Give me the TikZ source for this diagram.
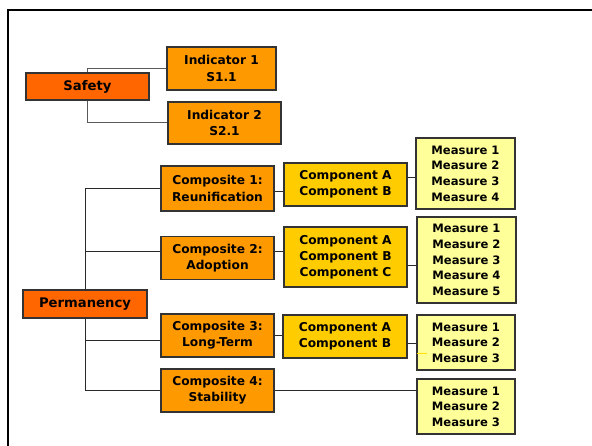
\documentclass[tikz,border=0pt]{standalone}
\usepackage{fontspec}
\setmainfont{DejaVu Sans}
\definecolor{topc}{HTML}{FF6600}
\definecolor{midc}{HTML}{FF9900}
\definecolor{compc}{HTML}{FFCC00}
\definecolor{measc}{HTML}{FFFF99}
\definecolor{edgec}{HTML}{333333}
\definecolor{linec}{HTML}{2A2A2A}
\definecolor{linegray}{HTML}{5A5A5A}
\definecolor{yelline}{HTML}{FFE000}
\begin{document}
\begin{tikzpicture}[x=1pt,y=-1pt,
  box/.style={draw=edgec,line width=1.3pt,inner sep=0pt,align=center,
    font=\fontsize{12.2}{16.2}\selectfont\bfseries},
  topbox/.style={box,fill=topc,font=\fontsize{13.2}{16}\selectfont\bfseries},
  midbox/.style={box,fill=midc},
  compbox/.style={box,fill=compc},
  measbox/.style={box,fill=measc,font=\fontsize{11.6}{15.6}\selectfont\bfseries},
  conn/.style={draw=linec,line width=1pt},
  conng/.style={draw=linegray,line width=1pt}]
\useasboundingbox (0,0) rectangle (592,446);
\draw[line width=2.6pt] (8,446) -- (8,10) -- (592,10);

\node[topbox,minimum width=123pt,minimum height=27pt] (safety) at (87.5,86.5) {Safety};
\node[midbox,minimum width=109pt,minimum height=43pt] (ind1) at (221.5,68.5) {Indicator 1\\S1.1};
\node[midbox,minimum width=113pt,minimum height=42pt] (ind2) at (224.5,123) {Indicator 2\\S2.1};

\node[topbox,minimum width=124pt,minimum height=28pt] (perm) at (85,304) {Permanency};
\node[midbox,minimum width=113pt,minimum height=45pt] (c1) at (217.5,188.5) {Composite 1:\\Reunification};
\node[midbox,minimum width=113pt,minimum height=43pt] (c2) at (217.5,258) {Composite 2:\\Adoption};
\node[midbox,minimum width=113pt,minimum height=43pt] (c3) at (217.5,335.5) {Composite 3:\\Long-Term};
\node[midbox,minimum width=113pt,minimum height=43pt] (c4) at (217.5,390.5) {Composite 4:\\Stability};

\node[compbox,minimum width=123pt,minimum height=43pt] (comp1) at (345.5,184.5) {Component A\\Component B};
\node[compbox,minimum width=123pt,minimum height=60pt] (comp2) at (345.5,257) {Component A\\Component B\\Component C};
\node[compbox,minimum width=124pt,minimum height=43pt] (comp3) at (345,336.5) {Component A\\Component B};

\node[measbox,minimum width=99pt,minimum height=71pt] (meas1) at (465.5,173.5) {Measure 1\\Measure 2\\Measure 3\\Measure 4};
\node[measbox,minimum width=99pt,minimum height=86pt] (meas2) at (466.5,260) {Measure 1\\Measure 2\\Measure 3\\Measure 4\\Measure 5};
\node[measbox,minimum width=98pt,minimum height=55pt] (meas3) at (466,342.5) {Measure 1\\Measure 2\\Measure 3};
\node[measbox,minimum width=98pt,minimum height=55pt] (meas4) at (466,406.5) {Measure 1\\Measure 2\\Measure 3};

% safety connectors
\draw[conng] (safety.north) |- (ind1.west);
\draw[conng] (safety.south) |- (ind2.west);

% permanency connectors
\draw[conn] (perm.north) |- (c1.west);
\draw[conn] ([yshift=6pt]c2.west) -| (perm.north);
\draw[conn] (perm.south) |- ([yshift=-5.5pt]c3.west);
\draw[conn] (perm.south) |- (c4.west);

% composite to component
\draw[conn] ([yshift=-3.5pt]c1.east) -- ([yshift=-3.5pt]c1.east -| comp1.west);
\draw[conn] ([yshift=6pt]c2.east) -- ([yshift=6pt]c2.east -| comp2.west);
\draw[conn] (c3.east) -- (c3.east -| comp3.west);
\draw[conn] (c4.east) -- (c4.east -| meas4.west);

% component to measure
\draw[conn] ([yshift=6.5pt]comp1.east) -- ([yshift=6.5pt]comp1.east -| meas1.west);
\draw[conn] ([yshift=-9pt]comp2.east) -- ([yshift=-9pt]comp2.east -| meas2.west);
\draw[conn] ([yshift=-7.5pt]comp3.east) -- ([yshift=-7.5pt]comp3.east -| meas3.west);
\draw[draw=yelline,line width=1pt] ([yshift=-11.5pt,xshift=0.7pt]meas3.west) -- ++(10,0);
\end{tikzpicture}
\end{document}
